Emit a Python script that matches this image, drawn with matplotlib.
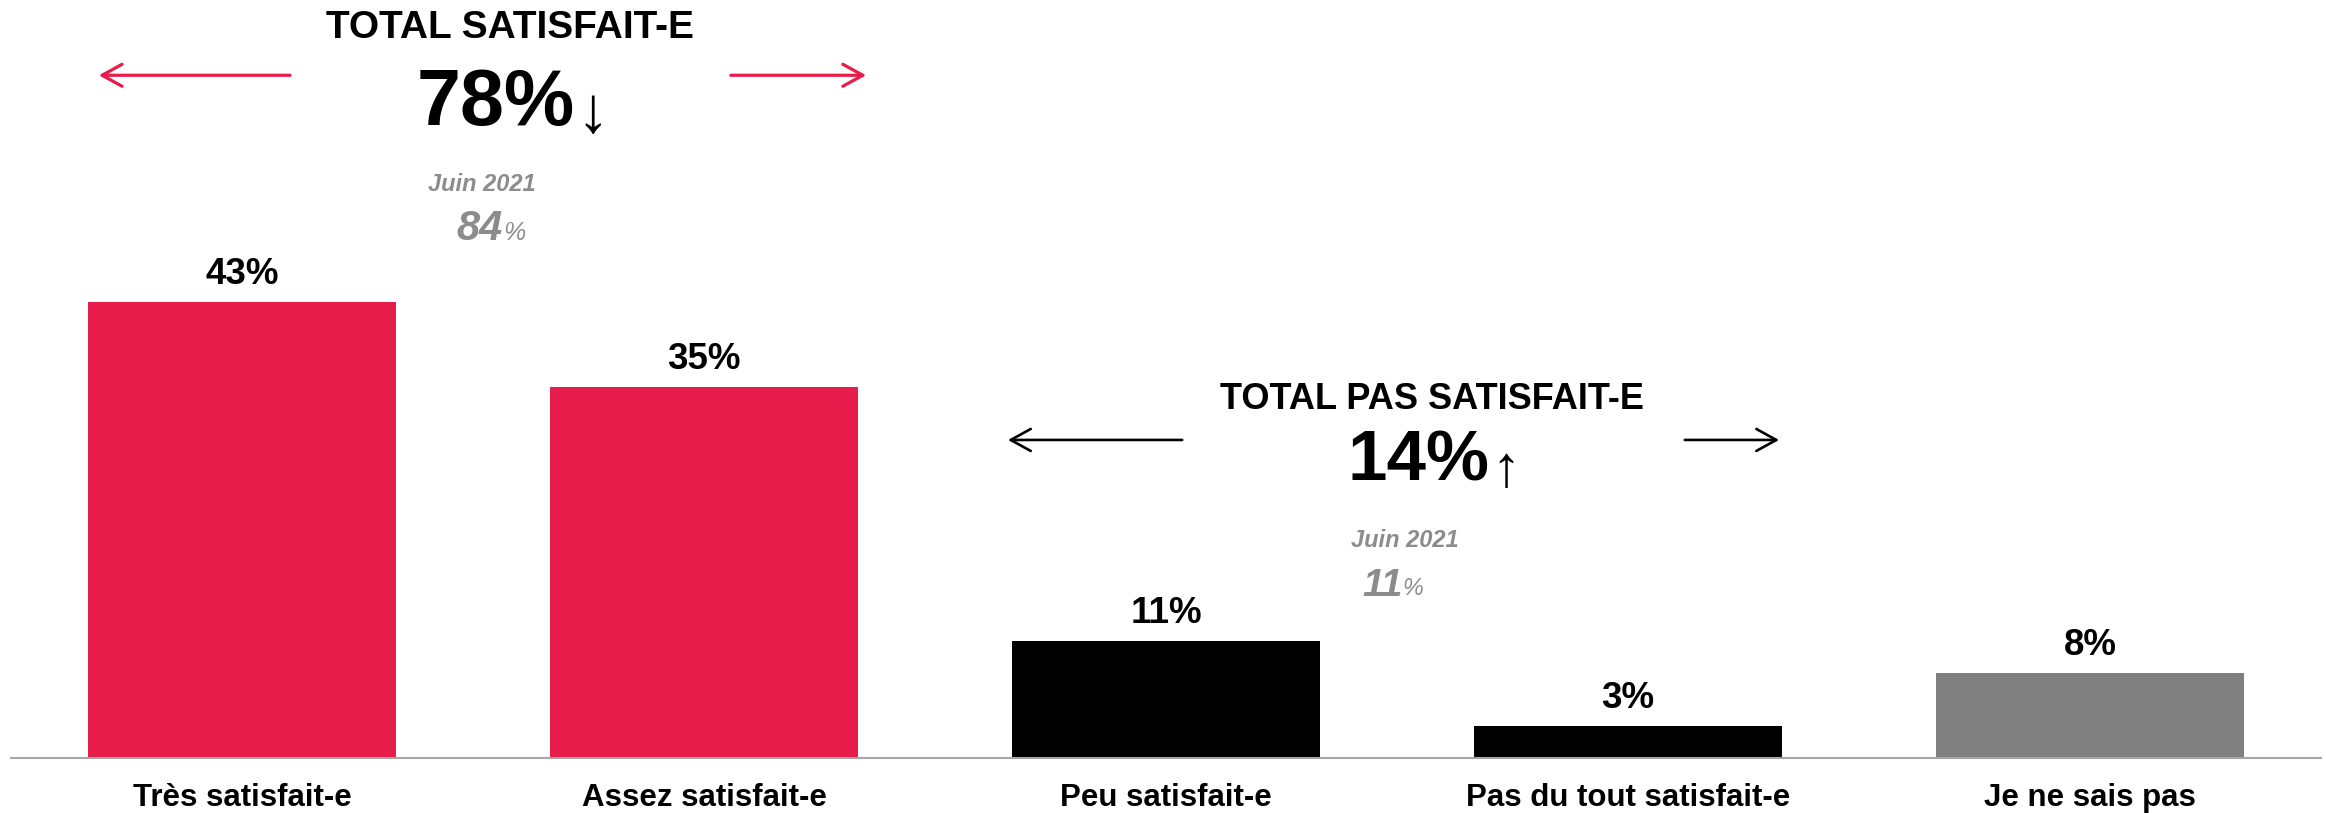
import matplotlib
matplotlib.use("Agg")
import matplotlib.pyplot as plt

# ─── Data ────────────────────────────────────────────────────────────────────

categories = ["Très satisfait-e", "Assez satisfait-e", "Peu satisfait-e",
              "Pas du tout satisfait-e", "Je ne sais pas"]
values = [43, 35, 11, 3, 8]
groups = ["sat", "sat", "unsat", "unsat", "nsp"]

total_sat, total_sat_prev = 78, 84
total_unsat, total_unsat_prev = 14, 11
prev_label = "Juin 2021"

# ─── Style ───────────────────────────────────────────────────────────────────

RED = "#E81C4A"
GREY_TXT = "#8C8C8C"
COLORS = {"sat": RED, "unsat": "#000000", "nsp": "#808080"}

plt.rcParams["font.family"] = ["Liberation Sans", "DejaVu Sans"]

W, H = 2326, 813
fig = plt.figure(figsize=(W / 100, H / 100), dpi=100)
ax = fig.add_axes([11 / W, 55 / H, 2310 / W, 758 / H])

x = list(range(len(categories)))
bars = ax.bar(x, values, width=0.667, color=[COLORS[g] for g in groups])

ax.set_xlim(-0.5, len(categories) - 0.5)
ax.set_ylim(0, 71.5)
ax.set_yticks([])
for s in ["top", "right", "left"]:
    ax.spines[s].set_visible(False)
ax.spines["bottom"].set_color("#A6A6A6")
ax.spines["bottom"].set_linewidth(1.5)
ax.set_xticks(x)
ax.set_xticklabels(categories, fontsize=22.5, fontweight="bold")
ax.tick_params(axis="x", length=0, pad=18)

# value labels
for b, v in zip(bars, values):
    ax.annotate(f"{v}%", (b.get_x() + b.get_width() / 2, v),
                xytext=(0, 13), textcoords="offset points",
                ha="center", va="baseline", fontsize=26.5, fontweight="bold")


# ─── Totals blocks ───────────────────────────────────────────────────────────

def total_block(title, xc, y_title, title_size, val, x_val_right, y_val, val_size,
                arrow_char, prev, x_prev, y_prev, prev_size, arr_l, arr_r, y_arr,
                arr_color, arr_lw):
    ax.text(xc, y_title, title, ha="center", va="baseline",
            fontsize=title_size, fontweight="bold")
    t = ax.text(x_val_right, y_val, f"{val}%", ha="right", va="baseline",
                fontsize=val_size, fontweight="bold")
    ax.annotate(arrow_char, xy=(1, 0), xycoords=t, xytext=(1, -2),
                textcoords="offset points", ha="left", va="bottom",
                fontsize=val_size * 0.82)
    ax.text(xc - 0.06, y_prev + 4.6, prev_label, ha="center", va="baseline",
            fontsize=17, fontweight="bold", style="italic", color=GREY_TXT)
    tp = ax.text(x_prev, y_prev, str(prev), ha="left", va="baseline",
                 fontsize=prev_size, fontweight="bold", style="italic", color=GREY_TXT)
    ax.annotate("%", xy=(1, 0), xycoords=tp, xytext=(0, 2.5),
                textcoords="offset points", ha="left", va="bottom",
                fontsize=prev_size * 0.6, style="italic", color=GREY_TXT)
    style = "->, head_length=0.6, head_width=0.33"
    for x0, x1 in (arr_l, arr_r):
        ax.annotate("", xy=(x1, y_arr), xytext=(x0, y_arr),
                    arrowprops=dict(arrowstyle=style, color=arr_color, lw=arr_lw,
                                    mutation_scale=24, shrinkA=0, shrinkB=0))


total_block("TOTAL SATISFAIT-E", 0.58, 67.9, 28, total_sat, 0.721, 59.7, 57, "↓",
            total_sat_prev, 0.465, 48.9, 30,
            (0.104, -0.310), (1.058, 1.351), 64.4, RED, 2.3)

total_block("TOTAL PAS SATISFAIT-E", 2.576, 32.9, 26, total_unsat, 2.701, 26.2, 51, "↑",
            total_unsat_prev, 2.424, 15.3, 28,
            (2.035, 1.658), (3.123, 3.327), 30.0, "#000000", 1.9)

fig.savefig("out.png", dpi=100)
